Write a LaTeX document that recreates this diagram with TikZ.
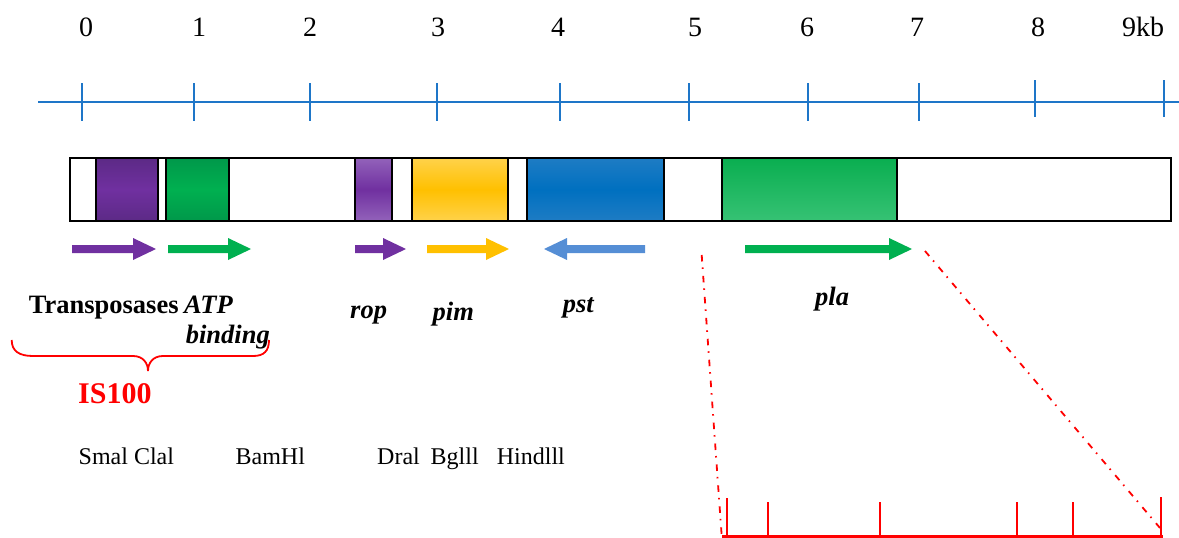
\documentclass[tikz,border=0pt]{standalone}
\usepackage{fontspec}
\setmainfont{Liberation Serif}
\definecolor{ruleblue}{RGB}{30,118,200}
\definecolor{ispurple}{RGB}{112,48,160}
\definecolor{ispurpleD}{RGB}{92,42,134}
\definecolor{roppurpleL}{RGB}{146,98,186}
\definecolor{tgreen}{RGB}{0,176,80}
\definecolor{tgreenD}{RGB}{0,152,74}
\definecolor{pimyellow}{RGB}{255,192,0}
\definecolor{pimyellowL}{RGB}{255,210,74}
\definecolor{pstblue}{RGB}{0,112,192}
\definecolor{pstblueL}{RGB}{30,124,196}
\definecolor{pstarrow}{RGB}{85,142,213}
\definecolor{plagreenT}{RGB}{10,174,80}
\definecolor{plagreenB}{RGB}{54,194,116}
\definecolor{isred}{RGB}{255,0,0}
% gene arrow: tail x, tip x, centre y, colour
\newcommand\genearrow[4]{%
  \pgfmathsetmacro\headbase{#2-23*sign(#2-#1)}%
  \fill[#4] (#1,#3-4) -- (\headbase,#3-4) -- (\headbase,#3-11) -- (#2,#3)
    -- (\headbase,#3+11) -- (\headbase,#3+4) -- (#1,#3+4) -- cycle;}
\begin{document}
\begin{tikzpicture}[x=1pt,y=-1pt,
  scalenum/.style={font=\fontsize{28}{32}\selectfont,anchor=base,inner sep=0},
  genelabel/.style={font=\fontsize{26.5}{30}\selectfont\bfseries\itshape,anchor=base west,inner sep=0},
  sitelabel/.style={font=\fontsize{24}{28}\selectfont,anchor=base west,inner sep=0},
  ruler/.style={draw=ruleblue,line width=2.5pt},
  segment/.style={draw=black,line width=1.6pt},
  zoomline/.style={draw=isred,line width=1.8pt,dash pattern=on 6.5pt off 6pt on 1.5pt off 7pt},
  redscale/.style={draw=isred,line width=2pt}]
\useasboundingbox (0,0) rectangle (1179,538);

% kb scale
\draw[ruler] (38,102) -- (1179,102);
\foreach \x in {82,194,310,437,560,689,808,919}
  \draw[ruler] (\x,83) -- (\x,121);
\foreach \x in {1035,1164}
  \draw[ruler] (\x,80) -- (\x,117);
\foreach \x/\t [count=\i] in {86/0,199/1,310/2,438/3,558/4,695/5,807/6,917/7,1038/8,1143/9kb}
  \node[scalenum] (kb\i) at (\x,36) {\t};

% plasmid segment map
\draw[segment,fill=white] (70,158) rectangle (1171,221);
\draw[segment,top color=ispurpleD,bottom color=ispurpleD,middle color=ispurple] (96,158) rectangle (158,221);
\draw[segment,top color=tgreenD,bottom color=tgreenD,middle color=tgreen] (166,158) rectangle (229,221);
\draw[segment,top color=roppurpleL,bottom color=roppurpleL,middle color=ispurple] (355,158) rectangle (392,221);
\draw[segment,top color=pimyellowL,bottom color=pimyellowL,middle color=pimyellow] (412,158) rectangle (508,221);
\draw[segment,fill=white] (508,158) rectangle (527,221);
\draw[segment,top color=pstblueL,bottom color=pstblueL,middle color=pstblue] (527,158) rectangle (664,221);
\draw[segment,fill=white] (664,158) rectangle (722,221);
\draw[segment,top color=plagreenT,bottom color=plagreenB] (722,158) rectangle (897,221);

% transcription direction
\genearrow{72}{156}{249}{ispurple}
\genearrow{168}{251}{249}{tgreen}
\genearrow{355}{406}{249}{ispurple}
\genearrow{427}{509}{249}{pimyellow}
\genearrow{645}{544}{249}{pstarrow}
\genearrow{745}{912}{249}{tgreen}

% gene labels
\node[anchor=base west,inner sep=0,font=\fontsize{26.5}{30}\selectfont\bfseries] (trans) at (28.7,313) {Transposases};
\node[genelabel] (atp) at (184,313) {ATP};
\node[genelabel] (binding) at (185.6,343) {binding};
\node[genelabel] (rop) at (350,318) {rop};
\node[genelabel] (pim) at (432.5,320) {pim};
\node[genelabel] (pst) at (562.6,312) {pst};
\node[genelabel] (pla) at (815,305) {pla};

% IS100 brace
\draw[isred,line width=1.8pt] (11.7,340) .. controls (11.7,351) and (19,356) .. (33,356)
  -- (133,356) .. controls (143,356) and (148,363) .. (148,371)
  .. controls (148,363) and (153,356) .. (163,356)
  -- (253,356) .. controls (264,356) and (269,351) .. (269,340);
\node[anchor=base west,inner sep=0,text=isred,font=\fontsize{30}{34}\selectfont\bfseries] (is100) at (78,403) {IS100};

% restriction sites
\node[sitelabel] (smacla) at (78.5,464) {Smal Clal};
\node[sitelabel] (bam) at (235.4,464) {BamHl};
\node[sitelabel] (dra) at (377,464) {Dral};
\node[sitelabel] (bgl) at (430.5,464) {Bglll};
\node[sitelabel] (hind) at (496.7,464) {Hindlll};

% enlarged pla region
\coordinate (plaL) at (701.7,255);
\coordinate (plaR) at (925,251);
\coordinate (zoomL) at (721.7,536);
\coordinate (zoomR) at (1160,528);
\draw[zoomline] (plaL) -- (zoomL);
\draw[zoomline] (plaR) -- (zoomR);
\draw[isred,line width=3pt] (722,536.5) -- (1163,536.5);
\draw[redscale] (727,498) -- (727,536);
\draw[redscale] (1161,497) -- (1161,536);
\foreach \x in {768,880,1017,1073}
  \draw[redscale] (\x,502) -- (\x,536);
\end{tikzpicture}
\end{document}
